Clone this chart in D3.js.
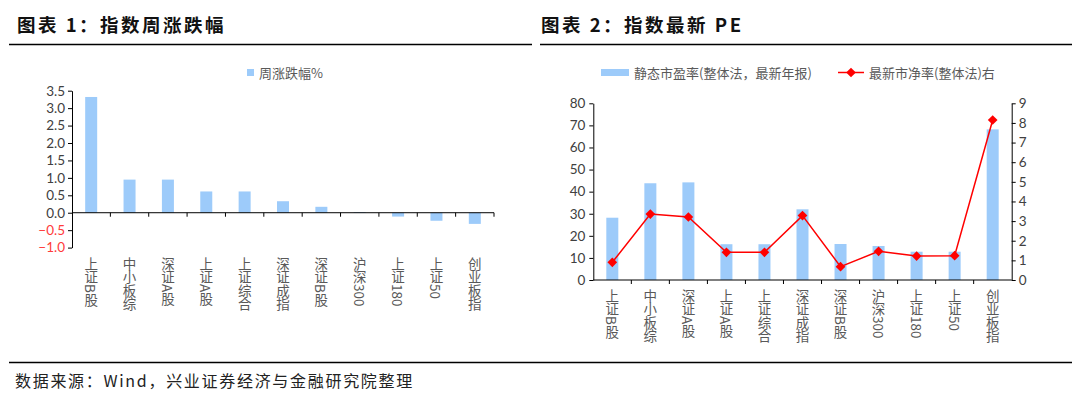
<!DOCTYPE html>
<html>
<head>
<meta charset="utf-8">
<script src="https://cdn.jsdelivr.net/npm/d3@7"></script>
<style>
  body { margin: 0; background: #fff; }
  svg { display: block; }
  .cjk { font-family: "Noto Sans CJK SC", sans-serif; }
</style>
</head>
<body>
<div id="chart"></div>
<script>
// ---------------- data ----------------
const cats1 = ["上证B股", "中小板综", "深证A股", "上证A股", "上证综合", "深证成指", "深证B股", "沪深300", "上证180", "上证50", "创业板指"]
const weekChange = [3.32, 0.95, 0.95, 0.61, 0.61, 0.33, 0.17, 0.02, -0.11, -0.23, -0.32]
const yTicks1 = [-1.0, -0.5, 0, 0.5, 1.0, 1.5, 2.0, 2.5, 3.0, 3.5]

const cats2 = ["上证B股", "中小板综", "深证A股", "上证A股", "上证综合", "深证成指", "深证B股", "沪深300", "上证180", "上证50", "创业板指"]
const peValues = [28.2, 43.8, 44.2, 16.2, 16.2, 32.0, 16.3, 15.4, 12.8, 12.8, 68.2]
const pbValues = [0.90, 3.36, 3.21, 1.41, 1.41, 3.28, 0.68, 1.46, 1.22, 1.24, 8.15]
const yTicksLeft2 = [0, 10, 20, 30, 40, 50, 60, 70, 80]
const yTicksRight2 = [0, 1, 2, 3, 4, 5, 6, 7, 8, 9]

const title1 = "图表 1：指数周涨跌幅"
const title2 = "图表 2：指数最新 PE"
const legend1 = "周涨跌幅%"
const legendBar2 = "静态市盈率(整体法，最新年报)"
const legendLine2 = "最新市净率(整体法)右"
const sourceText = "数据来源：Wind，兴业证券经济与金融研究院整理"

// ---------------- constants ----------------
const WIDTH = 1080
const HEIGHT = 399
const BAR_COLOR = "#9DCBFA"
const LINE_COLOR = "#FF0000"
const TEXT_GRAY = "#595959"
const NUM_FONT = "Lato, 'Open Sans', sans-serif"

const svg = d3.select("#chart").append("svg")
  .attr("width", WIDTH)
  .attr("height", HEIGHT)

// ---------------- frame: titles and rules ----------------
svg.append("text").attr("class", "cjk")
  .attr("x", 17).attr("y", 32)
  .attr("font-size", 18.5).attr("font-weight", 700).attr("letter-spacing", 2.5)
  .attr("fill", "#111")
  .text(title1)
svg.append("text").attr("class", "cjk")
  .attr("x", 541).attr("y", 32)
  .attr("font-size", 18.5).attr("font-weight", 700).attr("letter-spacing", 2.5)
  .attr("fill", "#111")
  .text(title2)

svg.append("line").attr("x1", 9).attr("x2", 532).attr("y1", 44.5).attr("y2", 44.5)
  .attr("stroke", "#000").attr("stroke-width", 1.5)
svg.append("line").attr("x1", 540).attr("x2", 1072).attr("y1", 44.5).attr("y2", 44.5)
  .attr("stroke", "#000").attr("stroke-width", 1.5)
svg.append("line").attr("x1", 9).attr("x2", 1072).attr("y1", 362.5).attr("y2", 362.5)
  .attr("stroke", "#000").attr("stroke-width", 1.5)

svg.append("text").attr("class", "cjk")
  .attr("x", 15).attr("y", 387)
  .attr("font-size", 16).attr("letter-spacing", 1.7)
  .attr("fill", "#222")
  .text(sourceText)

// helper: vertical category labels
function drawCatLabels(g, cats, x, yTop) {
  g.selectAll("text.cat")
    .data(cats)
    .enter()
    .append("text")
    .attr("class", "cat cjk")
    .attr("x", d => x(d) + x.bandwidth() / 2)
    .attr("y", yTop)
    .attr("font-size", 13.5)
    .attr("fill", TEXT_GRAY)
    .style("writing-mode", "vertical-rl")
    .style("text-orientation", "mixed")
    .text(d => d)
}

// helper: category ticks at band edges
function drawCatTicks(g, x, cats, y0, len) {
  const edges = cats.map(d => x(d) + x.step())
  g.selectAll("line.ctick")
    .data(edges)
    .enter()
    .append("line")
    .attr("x1", d => d).attr("x2", d => d)
    .attr("y1", y0).attr("y2", y0 + len)
    .attr("stroke", "#000")
}

// ---------------- chart 1 ----------------
{
  const g = svg.append("g")
  const x = d3.scaleBand().domain(cats1).range([72, 494]).paddingInner(0).paddingOuter(0)
  const y = d3.scaleLinear().domain([-1.0, 3.5]).range([247.6, 90.7])
  const barW = 12

  g.selectAll("rect.bar")
    .data(weekChange)
    .enter()
    .append("rect")
    .attr("class", "bar")
    .attr("x", (d, i) => x(cats1[i]) + x.bandwidth() / 2 - barW / 2)
    .attr("y", d => y(Math.max(0, d)))
    .attr("width", barW)
    .attr("height", d => Math.abs(y(d) - y(0)))
    .attr("fill", BAR_COLOR)

  // y axis
  const yAxis = d3.axisLeft(y).tickValues(yTicks1).tickSize(4).tickSizeOuter(0)
    .tickFormat(d3.format(".1f"))
  const ya = g.append("g").attr("transform", "translate(72,0)").call(yAxis)
  ya.select(".domain").attr("stroke", "#000")
  ya.selectAll(".tick line").attr("stroke", "#000")
  ya.selectAll(".tick text")
    .attr("x", -7)
    .attr("font-family", NUM_FONT).attr("font-size", 13.5)
    .attr("fill", d => d < 0 ? "#FF3B3B" : "#404040")

  // zero line with ticks
  g.append("line").attr("x1", 72).attr("x2", 494).attr("y1", y(0)).attr("y2", y(0))
    .attr("stroke", "#000")
  drawCatTicks(g, x, cats1, y(0), 4)
  drawCatLabels(g, cats1, x, 257)

  // legend
  g.append("rect").attr("x", 247).attr("y", 69).attr("width", 7).attr("height", 7).attr("fill", BAR_COLOR)
  g.append("text").attr("class", "cjk")
    .attr("x", 259).attr("y", 77.5)
    .attr("font-size", 13).attr("fill", TEXT_GRAY)
    .text(legend1)
}

// ---------------- chart 2 ----------------
{
  const g = svg.append("g")
  const x = d3.scaleBand().domain(cats2).range([593.3, 1011.7]).paddingInner(0).paddingOuter(0)
  const yL = d3.scaleLinear().domain([0, 80]).range([280, 103.3])
  const yR = d3.scaleLinear().domain([0, 9]).range([280, 103.3])
  const barW = 12

  g.selectAll("rect.bar")
    .data(peValues)
    .enter()
    .append("rect")
    .attr("class", "bar")
    .attr("x", (d, i) => x(cats2[i]) + x.bandwidth() / 2 - barW / 2)
    .attr("y", d => yL(d))
    .attr("width", barW)
    .attr("height", d => yL(0) - yL(d))
    .attr("fill", BAR_COLOR)

  const lineGen = d3.line()
    .x((d, i) => x(cats2[i]) + x.bandwidth() / 2)
    .y(d => yR(d))
  g.append("path")
    .datum(pbValues)
    .attr("d", lineGen)
    .attr("fill", "none")
    .attr("stroke", LINE_COLOR)
    .attr("stroke-width", 1.5)

  const diamond = d3.symbol().type(d3.symbolDiamond2).size(60)
  g.selectAll("path.mk")
    .data(pbValues)
    .enter()
    .append("path")
    .attr("class", "mk")
    .attr("d", diamond)
    .attr("transform", (d, i) => `translate(${x(cats2[i]) + x.bandwidth() / 2},${yR(d)})`)
    .attr("fill", LINE_COLOR)

  // left axis
  const ya = g.append("g").attr("transform", "translate(593.3,0)")
    .call(d3.axisLeft(yL).tickValues(yTicksLeft2).tickSize(4).tickSizeOuter(0))
  ya.select(".domain").attr("stroke", "#000")
  ya.selectAll(".tick line").attr("stroke", "#000")
  ya.selectAll(".tick text").attr("x", -8)
    .attr("font-family", NUM_FONT).attr("font-size", 13.5).attr("fill", "#404040")

  // right axis
  const yb = g.append("g").attr("transform", "translate(1011.7,0)")
    .call(d3.axisRight(yR).tickValues(yTicksRight2).tickSize(4).tickSizeOuter(0))
  yb.select(".domain").attr("stroke", "#000")
  yb.selectAll(".tick line").attr("stroke", "#000")
  yb.selectAll(".tick text").attr("x", 7)
    .attr("font-family", NUM_FONT).attr("font-size", 13.5).attr("fill", "#404040")

  // bottom axis
  g.append("line").attr("x1", 593.3).attr("x2", 1011.7).attr("y1", 280).attr("y2", 280)
    .attr("stroke", "#000")
  drawCatTicks(g, x, cats2.slice(0, -1), 280, 4)
  drawCatLabels(g, cats2, x, 289)

  // legend
  g.append("rect").attr("x", 601).attr("y", 69).attr("width", 28).attr("height", 7).attr("fill", BAR_COLOR)
  g.append("text").attr("class", "cjk")
    .attr("x", 634).attr("y", 77.5)
    .attr("font-size", 13).attr("fill", TEXT_GRAY)
    .text(legendBar2)
  g.append("line").attr("x1", 838).attr("x2", 864).attr("y1", 72.5).attr("y2", 72.5)
    .attr("stroke", LINE_COLOR).attr("stroke-width", 1.5)
  g.append("path").attr("d", diamond).attr("transform", "translate(851,72.5)").attr("fill", LINE_COLOR)
  g.append("text").attr("class", "cjk")
    .attr("x", 869).attr("y", 77.5)
    .attr("font-size", 13).attr("fill", TEXT_GRAY)
    .text(legendLine2)
}
</script>
</body>
</html>
